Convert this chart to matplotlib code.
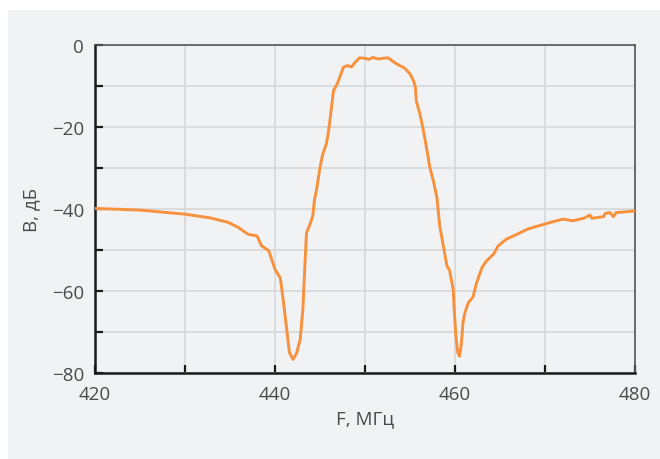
import numpy as np
import matplotlib
matplotlib.use("Agg")
import matplotlib.pyplot as plt
from matplotlib.patches import Rectangle

# frequency response
freq_mhz = [420.0, 425.0, 430.0, 432.8, 434.8, 435.9, 437.0, 438.0, 438.5, 439.3,
            440.0, 440.6, 440.9, 441.3, 441.6, 442.0, 442.4, 442.8, 443.1, 443.3,
            443.5, 443.9, 444.2, 444.4, 444.6, 445.0, 445.3, 445.7, 445.9, 446.1,
            446.5, 446.9, 447.2, 447.6, 448.0, 448.5, 448.9, 449.4, 450.0, 450.4,
            450.9, 451.5, 452.0, 452.6, 453.1, 453.7, 454.4, 455.0, 455.4, 455.6,
            455.7, 456.1, 456.5, 456.9, 457.2, 457.6, 458.0, 458.3, 458.7, 459.1,
            459.4, 459.8, 459.9, 460.1, 460.3, 460.5, 460.7, 460.9, 461.1, 461.5,
            462.0, 462.4, 463.0, 463.5, 464.3, 464.8, 465.7, 466.9, 468.0, 468.7,
            470.0, 470.6, 472.0, 473.1, 474.3, 475.0, 475.2, 476.5, 476.7, 477.2,
            477.6, 477.9, 479.1, 480.0]
gain_db = [-39.9, -40.3, -41.3, -42.2, -43.3, -44.5, -46.2, -46.6, -49.0, -50.2,
           -54.7, -56.9, -62.0, -69.3, -75.0, -76.7, -75.2, -71.8, -64.5, -54.7,
           -45.8, -43.7, -41.7, -37.6, -35.6, -29.9, -26.7, -24.2, -21.8, -18.5,
           -11.2, -9.6, -7.9, -5.5, -5.1, -5.4, -4.3, -3.2, -3.3, -3.6,
           -3.1, -3.5, -3.3, -3.2, -4.1, -4.9, -5.7, -7.1, -8.8, -10.4,
           -13.7, -16.9, -21.0, -25.9, -29.9, -33.2, -37.4, -44.1, -49.0, -53.9,
           -55.0, -59.6, -64.0, -71.0, -75.0, -75.9, -73.0, -67.5, -65.3, -62.8,
           -61.5, -58.0, -54.3, -52.7, -51.0, -49.0, -47.4, -46.2, -45.0, -44.5,
           -43.7, -43.3, -42.5, -42.9, -42.3, -41.5, -42.3, -41.9, -41.1, -40.9,
           -41.9, -40.9, -40.7, -40.5]

x_ticks = [420, 440, 460, 480]
y_ticks = [0, -20, -40, -60, -80]

plt.rcParams['font.family'] = ['Open Sans', 'DejaVu Sans']
panel = '#f1f2f4'
text_col = '#4a4a4a'
fs = 13.5

fig = plt.figure(figsize=(6.6, 4.6), dpi=100, facecolor='white')
# gray panel behind the chart
bg = Rectangle((8 / 660, 0), 1 - 8 / 660, 1 - 11 / 460,
               transform=fig.transFigure, facecolor=panel,
               edgecolor='none', zorder=-10)
fig.add_artist(bg)

ax = fig.add_axes([95 / 660, 1 - 374 / 460, 540 / 660, (374 - 45.7) / 460])
ax.set_facecolor(panel)

ax.plot(freq_mhz, gain_db, color='#f7913d', lw=2.1, solid_joinstyle='round', zorder=3)

ax.set_xlim(420, 480)
ax.set_ylim(-80, 0)
ax.set_xticks(np.arange(420, 481, 10))
ax.set_xticklabels([str(v) if v in x_ticks else '' for v in range(420, 481, 10)])
ax.set_yticks(np.arange(-80, 1, 10))
ax.set_yticklabels([('\u2212' + str(-v) if v < 0 else str(v)) if v in y_ticks else ''
                    for v in range(-80, 1, 10)])

ax.grid(True, color='#d8d9db', lw=1.3, zorder=1)
ax.set_axisbelow(True)
ax.tick_params(direction='in', length=6, width=1.6, color='#1a1a1a',
               labelsize=fs, labelcolor=text_col)
ax.tick_params(axis='x', pad=9)
ax.tick_params(axis='y', pad=8)

for side in ['left', 'bottom']:
    ax.spines[side].set_color('#1a1a1a')
    ax.spines[side].set_linewidth(1.8)
for side in ['top', 'right']:
    ax.spines[side].set_color('#555555')
    ax.spines[side].set_linewidth(1.2)

ax.set_xlabel('F, МГц', fontsize=fs, color=text_col, labelpad=4)
ax.set_ylabel('В, дБ', fontsize=fs, color=text_col, labelpad=8)

fig.savefig('out.png', dpi=100, facecolor='white')
